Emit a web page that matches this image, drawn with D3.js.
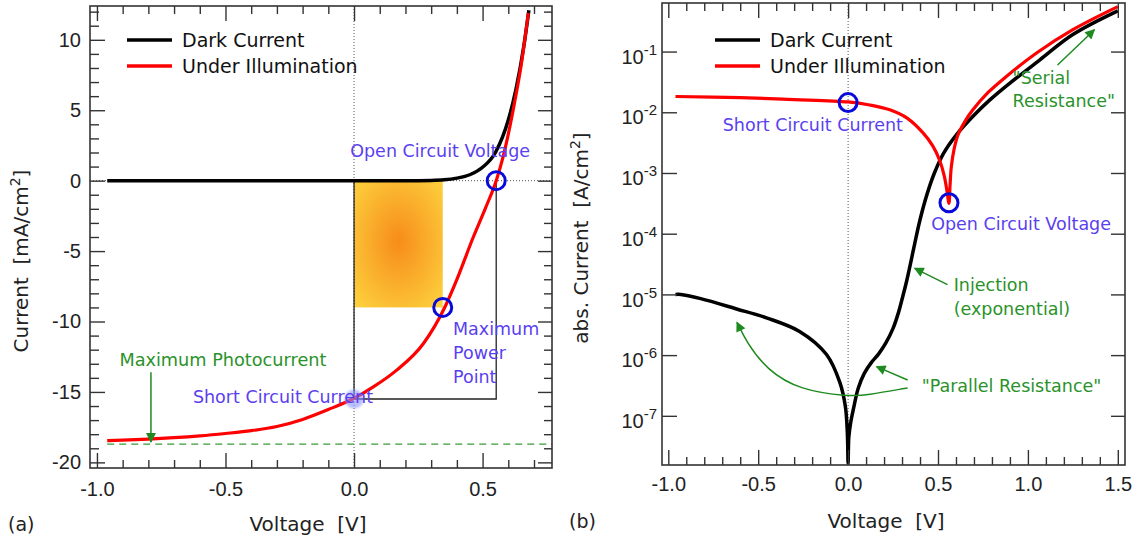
<!DOCTYPE html>
<html>
<head>
<meta charset="utf-8">
<script src="https://cdn.jsdelivr.net/npm/d3@7"></script>
<style>
  body { margin: 0; background: #fff; }
  svg { font-family: "DejaVu Sans", Verdana, sans-serif; }
  .pre { white-space: pre; }
</style>
</head>
<body>
<svg id="chart" width="1138" height="542"></svg>
<script>
// ---- panel (a): current density vs voltage, linear ----
const darkV = [-0.96, -0.5, 0, 0.2, 0.3, 0.35, 0.4, 0.45, 0.5, 0.55, 0.6, 0.63, 0.66, 0.68];
const darkJ = [0, 0, 0, 0, 0.02, 0.06, 0.18, 0.42, 0.95, 2.0, 4.3, 6.5, 9.5, 12.1];
const lightV = [-0.96, -0.9, -0.8, -0.7, -0.6, -0.5, -0.4, -0.3, -0.2, -0.1, 0, 0.075, 0.166, 0.27, 0.354, 0.399, 0.464, 0.51, 0.553, 0.58, 0.6, 0.625, 0.65, 0.678];
const lightJ = [-18.45, -18.42, -18.35, -18.25, -18.12, -17.95, -17.75, -17.45, -16.95, -16.25, -15.45, -14.64, -13.45, -11.56, -8.95, -7.06, -4.0, -2.0, 0, 1.7, 3.3, 5.6, 8.2, 11.9];
const xTicksA = [-1.0, -0.5, 0.0, 0.5];
const yTicksA = [-20, -15, -10, -5, 0, 5, 10];
const jMaxPhoto = -18.7;
const voc = 0.553, jsc = -15.5;      // open circuit voltage, short circuit current
const vmpp = 0.345, jmpp = -9.0;     // maximum power point

// ---- panel (b): abs. current, log scale (values as powers of ten) ----
const darkLogV = [-0.96, -0.93, -0.82, -0.62, -0.45, -0.27, -0.12, -0.046, -0.015, -0.004, 0, 0.004, 0.015, 0.03, 0.056, 0.09, 0.13, 0.17, 0.21, 0.25, 0.28, 0.3, 0.324, 0.35, 0.37, 0.4, 0.44, 0.48, 0.53, 0.6, 0.7, 0.787, 0.9, 1.065, 1.25, 1.5];
const darkLogE = [-5.0, -5.0, -5.07, -5.24, -5.39, -5.61, -5.99, -6.45, -6.85, -7.3, -7.78, -7.35, -7.1, -6.88, -6.55, -6.3, -6.12, -5.98, -5.8, -5.56, -5.3, -5.08, -4.8, -4.45, -4.17, -3.77, -3.34, -3.0, -2.68, -2.38, -2.05, -1.8, -1.52, -1.14, -0.72, -0.33];
const lightLogV = [-0.96, -0.6, -0.3, 0, 0.12, 0.232, 0.33, 0.417, 0.47, 0.509, 0.535, 0.55, 0.561, 0.567, 0.574, 0.59, 0.61, 0.65, 0.694, 0.78, 0.88, 1.05, 1.25, 1.5];
const lightLogE = [-1.74, -1.76, -1.79, -1.83, -1.88, -1.96, -2.1, -2.34, -2.55, -2.79, -3.05, -3.3, -3.5, -3.2, -2.9, -2.6, -2.38, -2.15, -1.96, -1.67, -1.41, -1.02, -0.64, -0.26];
const xTicksB = [-1.0, -0.5, 0.0, 0.5, 1.0, 1.5];
const yTicksB = [1e-7, 1e-6, 1e-5, 1e-4, 1e-3, 1e-2, 1e-1];

const blue = "#5a3ff0", ring = "#0a0ad8", green = "#2a922a", arrowGreen = "#1f8a1f";
const svg = d3.select("#chart");

const defs = svg.append("defs");
defs.append("marker").attr("id", "arrow")
  .attr("viewBox", "0 0 10 10").attr("refX", 9).attr("refY", 5)
  .attr("markerWidth", 12).attr("markerHeight", 10).attr("markerUnits", "userSpaceOnUse")
  .attr("orient", "auto")
  .append("path").attr("d", "M0,0L10,5L0,10Z").attr("fill", arrowGreen);
const grad = defs.append("radialGradient").attr("id", "glow")
  .attr("cx", "50%").attr("cy", "48%").attr("r", "70%");
grad.append("stop").attr("offset", "0%").attr("stop-color", "#f78c1a");
grad.append("stop").attr("offset", "100%").attr("stop-color", "#fdd23e");
defs.append("filter").attr("id", "soft")
  .append("feGaussianBlur").attr("stdDeviation", 0.8);

function minorTicks(lo, hi, step, majors) {
  const out = [];
  for (let v = Math.ceil(lo / step - 1e-9) * step; v <= hi + 1e-9; v += step) {
    const r = Math.round(v / step) * step;
    if (!majors.some(m => Math.abs(m - r) < 1e-6)) out.push(r);
  }
  return out;
}

function styleAxis(g) {
  g.select(".domain").remove();
  g.attr("color", "#333");
  g.selectAll(".tick line").attr("stroke-width", 1.4);
  g.selectAll(".tick text").attr("fill", "#222").attr("font-size", 20);
}

function addTicks(g, x, y, xMaj, xMin, yMaj, yMin, xPad) {
  const [x0, x1] = x.range(), [y0, y1] = y.range();
  g.append("g").attr("transform", `translate(0,${y0})`)
    .call(d3.axisBottom(x).tickValues(xMaj).tickSize(-15).tickPadding(xPad).tickFormat(d => d.toFixed(1)))
    .call(styleAxis);
  g.append("g").attr("transform", `translate(0,${y0})`)
    .call(d3.axisBottom(x).tickValues(xMin).tickSize(-8).tickFormat("")).call(styleAxis);
  g.append("g").attr("transform", `translate(0,${y1})`)
    .call(d3.axisTop(x).tickValues(xMaj).tickSize(-15).tickFormat("")).call(styleAxis);
  g.append("g").attr("transform", `translate(0,${y1})`)
    .call(d3.axisTop(x).tickValues(xMin).tickSize(-8).tickFormat("")).call(styleAxis);
  g.append("g").attr("transform", `translate(${x1},0)`)
    .call(d3.axisRight(y).tickValues(yMaj).tickSize(-14).tickFormat("")).call(styleAxis);
  if (yMin.length) {
    g.append("g").attr("transform", `translate(${x1},0)`)
      .call(d3.axisRight(y).tickValues(yMin).tickSize(-8).tickFormat("")).call(styleAxis);
    g.append("g").attr("transform", `translate(${x0},0)`)
      .call(d3.axisLeft(y).tickValues(yMin).tickSize(-9).tickFormat("")).call(styleAxis);
  }
}

function legend(g, x0, y0) {
  const rows = [["Dark Current", "#000"], ["Under Illumination", "#f00"]];
  rows.forEach(([label, c], i) => {
    g.append("line").attr("x1", x0).attr("x2", x0 + 45)
      .attr("y1", y0 + i * 26).attr("y2", y0 + i * 26)
      .attr("stroke", c).attr("stroke-width", 3.5);
    g.append("text").attr("x", x0 + 55).attr("y", y0 + i * 26).attr("dy", "0.36em")
      .attr("font-size", 19).attr("fill", "#111").text(label);
  });
}

// ================= panel (a) =================
const xA = d3.scaleLinear().domain([-1.027, 0.77]).range([90, 552]);
const yA = d3.scaleLinear().domain([-20.4, 12.4]).range([468, 6]);
const gA = svg.append("g");

// power rectangle
gA.append("rect")
  .attr("x", xA(0)).attr("y", yA(0))
  .attr("width", xA(vmpp) - xA(0)).attr("height", yA(jmpp) - yA(0))
  .attr("fill", "url(#glow)");

// dotted zero lines
gA.append("line").attr("x1", xA(0)).attr("x2", xA(0)).attr("y1", yA.range()[1]).attr("y2", yA.range()[0])
  .attr("stroke", "#555").attr("stroke-width", 1).attr("stroke-dasharray", "1,2");
gA.append("line").attr("x1", xA.range()[0]).attr("x2", xA.range()[1]).attr("y1", yA(0)).attr("y2", yA(0))
  .attr("stroke", "#555").attr("stroke-width", 1).attr("stroke-dasharray", "1,2");

// Voc x Jsc box
gA.append("path")
  .attr("d", `M${xA(0)},${yA(0)}V${yA(jsc)}H${xA(voc)}V${yA(0)}`)
  .attr("fill", "none").attr("stroke", "#222").attr("stroke-width", 1.3);

// maximum photocurrent dashed line
gA.append("line").attr("x1", xA(-0.96)).attr("x2", xA.range()[1])
  .attr("y1", yA(jMaxPhoto)).attr("y2", yA(jMaxPhoto))
  .attr("stroke", "#3a9a3a").attr("stroke-width", 1.3).attr("stroke-dasharray", "7,5");

const lineA = d3.line().x(d => xA(d[0])).y(d => yA(d[1])).curve(d3.curveMonotoneX);
gA.append("path").datum(darkV.map((v, i) => [v, darkJ[i]]))
  .attr("d", lineA).attr("fill", "none").attr("stroke", "#000").attr("stroke-width", 3.5);
gA.append("path").datum(lightV.map((v, i) => [v, lightJ[i]]))
  .attr("d", lineA).attr("fill", "none").attr("stroke", "#f00").attr("stroke-width", 3.2);

// frame + ticks
gA.append("rect").attr("x", 90).attr("y", 6).attr("width", 462).attr("height", 462)
  .attr("fill", "none").attr("stroke", "#333").attr("stroke-width", 1.6);
addTicks(gA, xA, yA, xTicksA, minorTicks(-1.0, 0.77, 0.1, xTicksA),
  yTicksA, minorTicks(-20, 12, 1, yTicksA), 14);
gA.append("g").attr("transform", `translate(${xA.range()[0]},0)`)
  .call(d3.axisLeft(yA).tickValues(yTicksA).tickSize(-15).tickPadding(9).tickFormat(d => String(d)))
  .call(styleAxis);

legend(gA, 127, 40);

// markers
gA.append("circle").attr("cx", xA(voc)).attr("cy", yA(0)).attr("r", 9)
  .attr("fill", "none").attr("stroke", ring).attr("stroke-width", 3);
gA.append("circle").attr("cx", xA(vmpp)).attr("cy", yA(jmpp)).attr("r", 9)
  .attr("fill", "none").attr("stroke", ring).attr("stroke-width", 3);
gA.append("circle").attr("cx", xA(0)).attr("cy", yA(jsc)).attr("r", 9.5)
  .attr("fill", "#8a94ff").attr("fill-opacity", 0.6).attr("filter", "url(#soft)");

// annotations
gA.append("text").attr("x", xA(0.335)).attr("y", yA(1.68)).attr("text-anchor", "middle")
  .attr("font-size", 17.5).attr("fill", blue).text("Open Circuit Voltage");
const mpp = gA.append("text").attr("x", xA(0.385)).attr("y", yA(-10.97))
  .attr("font-size", 17.5).attr("fill", blue);
["Maximum", "Power", "Point"].forEach((w, i) =>
  mpp.append("tspan").attr("x", xA(0.385)).attr("dy", i ? 24 : 0).text(w));
gA.append("text").attr("x", xA(0.074)).attr("y", yA(-15.8)).attr("text-anchor", "end")
  .attr("font-size", 17.5).attr("fill", blue).text("Short Circuit Current");
gA.append("text").attr("x", xA(-0.51)).attr("y", yA(-13.17)).attr("text-anchor", "middle")
  .attr("font-size", 17.7).attr("fill", green).text("Maximum Photocurrent");
gA.append("line").attr("x1", xA(-0.79)).attr("x2", xA(-0.79))
  .attr("y1", yA(-13.6)).attr("y2", yA(-18.55))
  .attr("stroke", arrowGreen).attr("stroke-width", 1.5).attr("marker-end", "url(#arrow)");

// axis titles
const yTitleA = gA.append("text").attr("class", "pre")
  .attr("transform", "translate(28,261) rotate(-90)").attr("text-anchor", "middle")
  .attr("font-size", 20).attr("fill", "#222");
yTitleA.append("tspan").text("Current  [mA/cm");
yTitleA.append("tspan").attr("dy", -8).attr("font-size", 14).text("2");
yTitleA.append("tspan").attr("dy", 8).text("]");
gA.append("text").attr("class", "pre").attr("x", 308).attr("y", 531).attr("text-anchor", "middle")
  .attr("font-size", 20).attr("fill", "#222").text("Voltage  [V]");
gA.append("text").attr("x", 8).attr("y", 531).attr("font-size", 19).attr("fill", "#222").text("(a)");

// ================= panel (b) =================
const xB = d3.scaleLinear().domain([-1.035, 1.54]).range([662, 1125]);
const yB = d3.scaleLog().domain([Math.pow(10, -7.81), Math.pow(10, -0.2)]).range([465, 3]);
const gB = svg.append("g");

gB.append("line").attr("x1", xB(0)).attr("x2", xB(0)).attr("y1", yB.range()[1]).attr("y2", yB.range()[0])
  .attr("stroke", "#555").attr("stroke-width", 1).attr("stroke-dasharray", "1,2");

const lineB = d3.line().x(d => xB(d[0])).y(d => yB(Math.pow(10, d[1])))
  .curve(d3.curveCatmullRom.alpha(0.5));
gB.append("path").datum(darkLogV.map((v, i) => [v, darkLogE[i]]))
  .attr("d", lineB).attr("fill", "none").attr("stroke", "#000").attr("stroke-width", 3.5);
gB.append("path").datum(lightLogV.map((v, i) => [v, lightLogE[i]]))
  .attr("d", lineB).attr("fill", "none").attr("stroke", "#f00").attr("stroke-width", 3.2);

gB.append("rect").attr("x", 662).attr("y", 3).attr("width", 463).attr("height", 462)
  .attr("fill", "none").attr("stroke", "#333").attr("stroke-width", 1.6);
addTicks(gB, xB, yB, xTicksB, minorTicks(-1.0, 1.5, 0.1, xTicksB), yTicksB, [], 12);
gB.append("g").attr("transform", `translate(${xB.range()[0]},0)`)
  .call(d3.axisLeft(yB).tickValues(yTicksB).tickSize(-15).tickPadding(5).tickFormat(""))
  .call(styleAxis)
  .call(g => g.selectAll(".tick text").each(function (d) {
    const t = d3.select(this).attr("dy", "0.58em");
    t.append("tspan").text("10");
    t.append("tspan").attr("dy", -9).attr("font-size", 15).text(String(Math.round(Math.log10(d))));
  }));

legend(gB, 715, 40);

gB.append("circle").attr("cx", xB(0)).attr("cy", yB(Math.pow(10, -1.84))).attr("r", 9)
  .attr("fill", "none").attr("stroke", ring).attr("stroke-width", 3);
gB.append("circle").attr("cx", xB(0.561)).attr("cy", yB(Math.pow(10, -3.49))).attr("r", 9)
  .attr("fill", "none").attr("stroke", ring).attr("stroke-width", 3);

const atB = (v, e) => [xB(v), yB(Math.pow(10, e))];
function textB(v, e, str, color, anchor) {
  const [px, py] = atB(v, e);
  return gB.append("text").attr("class", "pre").attr("x", px).attr("y", py)
    .attr("text-anchor", anchor || "start").attr("font-size", 17.5).attr("fill", color).text(str);
}
textB(-0.196, -2.31, "Short Circuit Current", blue, "middle");
textB(0.962, -3.94, "Open Circuit Voltage", blue, "middle");
textB(0.915, -1.53, "\"Serial", green);
textB(0.915, -1.91, "Resistance\"", green);
textB(0.587, -4.94, "Injection", green);
textB(0.587, -5.34, "(exponential)", green);
textB(0.409, -6.61, "\"Parallel Resistance\"", green);

function arrowB(pts, curved) {
  gB.append("path").datum(pts)
    .attr("d", d3.line().x(d => atB(d[0], d[1])[0]).y(d => atB(d[0], d[1])[1])
      .curve(curved ? d3.curveBasis : d3.curveLinear))
    .attr("fill", "none").attr("stroke", arrowGreen).attr("stroke-width", 1.5)
    .attr("marker-end", "url(#arrow)");
}
arrowB([[1.165, -1.22], [1.37, -0.64]]);
arrowB([[0.553, -4.84], [0.37, -4.57]]);
arrowB([[0.331, -6.41], [0.158, -6.19]]);
arrowB([[0.331, -6.54], [0.1, -6.66], [0.0094, -6.68], [-0.268, -6.58], [-0.453, -6.24], [-0.564, -5.79], [-0.618, -5.46]], true);

const yTitleB = gB.append("text").attr("class", "pre")
  .attr("transform", "translate(588,238) rotate(-90)").attr("text-anchor", "middle")
  .attr("font-size", 20).attr("fill", "#222");
yTitleB.append("tspan").text("abs. Current  [A/cm");
yTitleB.append("tspan").attr("dy", -8).attr("font-size", 14).text("2");
yTitleB.append("tspan").attr("dy", 8).text("]");
gB.append("text").attr("class", "pre").attr("x", 886).attr("y", 528).attr("text-anchor", "middle")
  .attr("font-size", 20).attr("fill", "#222").text("Voltage  [V]");
gB.append("text").attr("x", 569).attr("y", 528).attr("font-size", 19).attr("fill", "#222").text("(b)");
</script>
</body>
</html>
